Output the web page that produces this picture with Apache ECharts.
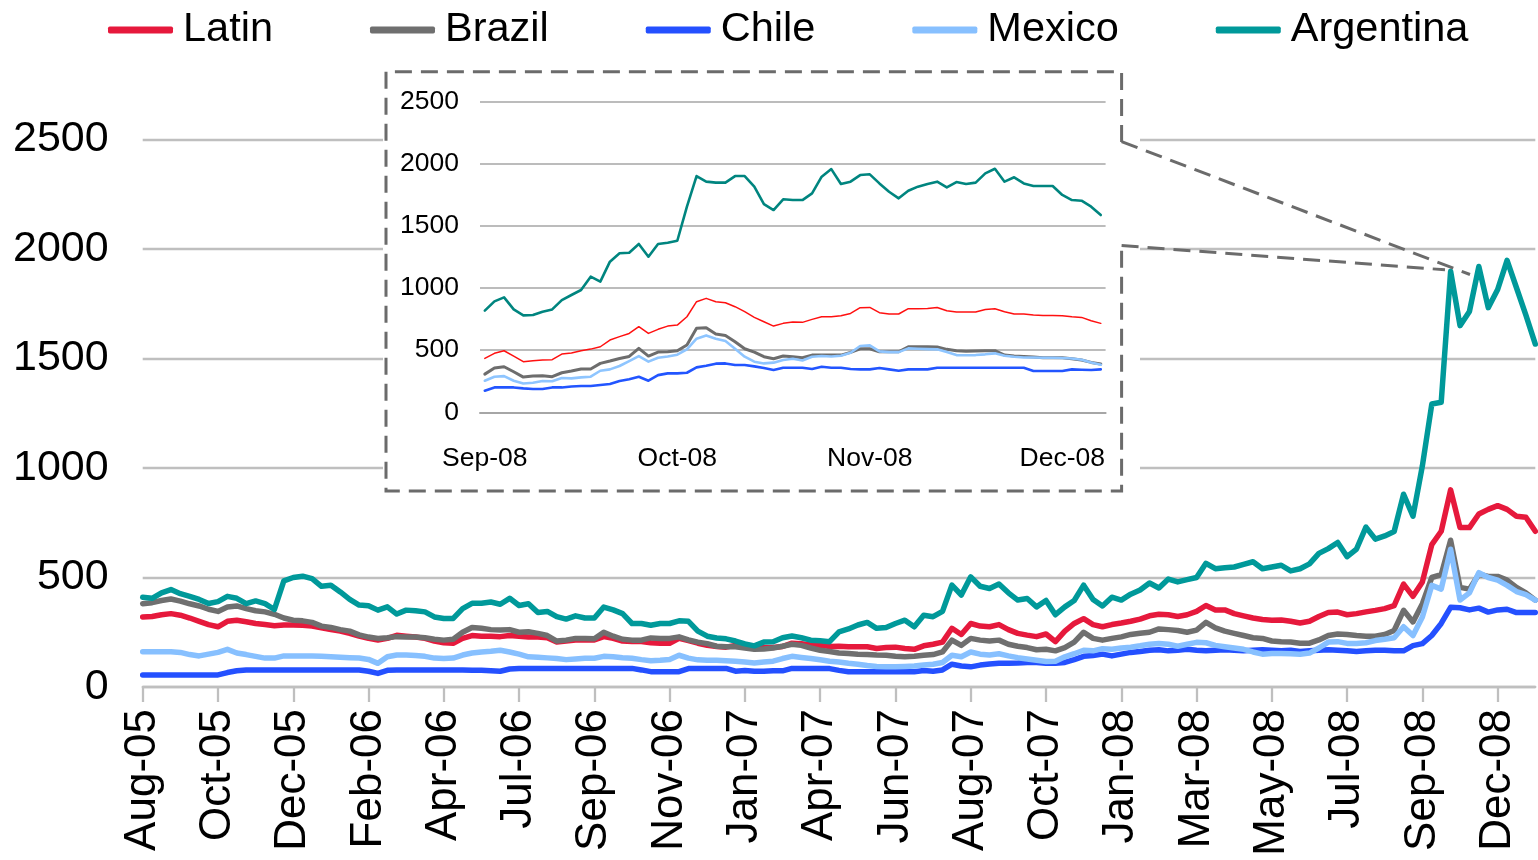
<!DOCTYPE html>
<html>
<head>
<meta charset="utf-8">
<script src="https://cdn.jsdelivr.net/npm/echarts@6.0.0/dist/echarts.min.js"></script>
<style>
  html, body { margin: 0; padding: 0; background: #ffffff; }
  #chart { width: 1538px; height: 860px; }
</style>
</head>
<body>
<div id="chart"></div>
<script>
// Sovereign spreads (bp), Aug-2005 to Dec-2008, with a zoom panel on Sep-Dec 2008.

// ---- main chart: tick labels and series (one point per ~6 trading days) ----
const mainTickLabels = ['Aug-05','Oct-05','Dec-05','Feb-06','Apr-06','Jul-06','Sep-06','Nov-06','Jan-07',
  'Apr-07','Jun-07','Aug-07','Oct-07','Jan-08','Mar-08','May-08','Jul-08','Sep-08','Dec-08'];
const mainStep = 8; // points between two labelled ticks

const latin = [
  320,322,330,335,328,315,300,285,275,300, 305,298,290,285,280,283,283,282,278,270,
  262,255,245,232,222,215,222,236,232,228, 222,210,202,200,222,
  235,232,232,230,235,232,228,228,225,205, 210,215,215,215,230,222,210,208,208,202,
  200,200,222,212,200,190,185,182,190,192, 178,180,180,185,
  200,198,192,190,185,186,184,184,184,176, 180,182,176,172,188,195,205,268,240,290,
  278,275,285,262,245,237,230,242,207,255, 290,312,285,
  275,285,292,300,310,325,332,330,322,330, 345,372,352,352,335,325,315,308,305,306,
  300,292,300,322,340,342,330,335,343,350, 358,372,
  470,414,480,650,711,900,728,728,790,811,828,811,780,775,711
];
const brazil = [
  380,385,395,402,392,380,370,355,345,365, 370,358,348,343,332,315,305,302,295,278,
  272,262,255,238,228,222,225,230,228,228, 225,218,214,218,250,
  272,268,262,260,262,250,252,245,235,210, 214,222,222,220,250,232,218,214,214,224,
  222,222,229,215,205,198,186,184,184,178, 172,174,178,186,
  195,190,178,168,162,155,153,150,148,146, 145,140,138,140,145,148,160,214,190,222,
  214,210,214,195,186,180,170,172,165,180, 205,250,222,
  214,222,229,240,245,250,265,262,258,250, 260,295,270,255,245,235,225,222,210,207,
  205,200,200,215,235,242,240,235,232,232, 240,258,
  350,297,380,500,513,670,455,447,515,505,505,488,455,430,397
];
const chile = [
  55,55,55,55,55,55,55,55,55,66, 74,78,78,78,78,78,78,78,78,78,
  78,78,78,78,72,62,76,78,78,78, 78,78,78,78,78,
  76,76,74,72,82,85,85,85,85,85, 85,85,85,85,85,85,85,85,78,70,
  70,70,70,84,85,85,85,85,72,75, 72,72,74,74,
  85,85,85,85,84,76,70,70,70,70, 70,70,70,70,75,72,78,104,96,92,
  100,105,108,109,110,112,112,108,108,112, 125,140,144,
  150,142,150,158,162,168,170,165,168,172, 168,165,168,170,168,166,168,170,168,165,
  168,162,166,168,170,168,165,162,165,168, 168,166,
  165,189,198,235,290,364,362,352,360,342,352,355,340,340,340
];
const mexico = [
  161,161,161,161,158,148,142,150,158,172, 155,148,140,132,132,142,142,142,142,140,
  138,136,134,132,126,108,138,146,146,144, 140,132,130,132,146,
  155,160,163,168,160,150,138,136,133,130, 125,128,131,131,140,138,134,131,125,120,
  122,126,145,132,124,122,122,120,118,114, 110,114,118,130,
  140,135,130,124,118,114,108,104,98,94, 92,92,94,96,100,104,112,145,138,160,
  150,146,152,142,134,128,122,116,118,138, 152,168,165,
  175,172,178,182,188,195,199,195,186,195, 204,202,190,184,178,172,160,150,153,153,
  152,150,155,178,205,207,199,199,202,212, 218,225,
  275,235,320,464,447,629,397,430,522,500,488,464,436,422,397
];
const argentina = [
  410,405,430,445,426,414,400,381,390,414, 405,381,393,381,354,485,500,506,495,460,
  465,434,400,374,371,351,366,333,351,348, 343,320,313,313,358,
  382,382,388,378,405,372,380,340,345,321, 310,325,315,315,365,352,335,290,290,282,
  290,290,302,300,255,232,224,220,210,197, 188,205,207,225,
  233,225,214,211,207,252,265,283,295,268, 272,290,305,275,328,321,345,465,420,503,
  460,450,470,430,397,404,366,395,330,366, 395,465,400,
  370,410,397,424,443,475,452,493,480,490, 500,565,540,545,548,560,572,540,548,556,
  530,540,562,610,632,660,595,630,730,675, 690,710,
  880,780,1010,1292,1300,1898,1650,1715,1920,1732,1815,1948,1823,1698,1566
];

// ---- zoom panel: Sep-08 to Dec-08, daily ----
const insetTickLabels = ['Sep-08','Oct-08','Nov-08','Dec-08'];
const insetStep = 20;

const insetLatin = [
  433,474,495,452,407,415,420,423,468,476, 495,508,527,581,608,634,688,634,667,693,
  701,768,889,916,889,881,849,809,763,728, 693,715,725,723,747,768,768,776,795,841,
  843,801,790,790,833,833,835,843,817,806, 806,806,827,833,809,790,790,782,779,779,
  776,768,763,736,715
];
const insetBrazil = [
  307,356,366,326,283,291,294,286,318,332, 348,348,393,412,433,449,514,452,484,487,
  495,541,675,680,629,618,567,511,484,447, 431,452,447,439,460,460,460,460,482,511,
  511,487,487,487,527,527,527,525,506,495, 490,492,495,495,460,452,449,444,439,439,
  439,431,420,401,388
];
const insetChile = [
  174,200,200,200,192,187,187,200,200,208, 211,211,219,227,251,265,286,254,299,313,
  313,318,361,374,391,393,380,380,369,356, 340,358,358,358,348,366,358,358,348,345,
  345,356,345,334,345,345,345,358,358,358, 358,358,358,358,358,358,358,332,332,332,
  332,345,342,340,345
];
const insetMexico = [
  254,286,291,254,232,238,251,249,276,273, 281,286,334,345,372,412,452,407,439,449,
  463,506,592,618,592,573,511,447,407,393, 399,420,431,417,447,452,449,455,479,533,
  538,490,484,484,514,511,508,506,484,460, 458,460,466,474,455,447,441,441,439,439,
  436,433,423,401,382
];
const insetArgentina = [
  817,892,924,827,779,782,809,827,902,943, 983,1090,1050,1211,1278,1283,1353,1251,1353,1363,
  1379,1653,1899,1854,1846,1846,1899,1899,1814,1674, 1626,1712,1706,1706,1760,1894,1955,1835,1854,1907,
  1913,1840,1773,1720,1781,1814,1835,1854,1808,1851, 1835,1846,1921,1958,1854,1889,1840,1819,1819,1819,
  1747,1706,1701,1653,1586
];

const names = ['Latin', 'Brazil', 'Chile', 'Mexico', 'Argentina'];
const mainColors = ['#E6193C', '#6F6F6F', '#2450FF', '#87C0FF', '#00999A'];
const insetColors = ['#FF1010', '#6D6D6D', '#2255FF', '#8EC5FF', '#00857F'];
const insetWidths = [1.5, 3, 2.6, 2.6, 2.6];

const FONT = '"Liberation Sans", Arial, Helvetica, sans-serif';

const mainCats = latin.map((_, i) => 'p' + i);
const insetCats = insetLatin.map((_, i) => 'd' + i);

const mainData = [latin, brazil, chile, mexico, argentina];
const insetData = [insetLatin, insetBrazil, insetChile, insetMexico, insetArgentina];

const plainNumber = (v) => String(v);

const series = [];
names.forEach((n, k) => {
  series.push({
    name: n, type: 'line', xAxisIndex: 0, yAxisIndex: 0, data: mainData[k],
    symbol: 'none', showSymbol: false, z: 2,
    lineStyle: { color: mainColors[k], width: 5.5, cap: 'round', join: 'round' },
    itemStyle: { color: mainColors[k] },
    emphasis: { disabled: true }
  });
});
names.forEach((n, k) => {
  series.push({
    name: n, type: 'line', xAxisIndex: 1, yAxisIndex: 1, data: insetData[k],
    symbol: 'none', showSymbol: false, z: 12,
    lineStyle: { color: insetColors[k], width: insetWidths[k], cap: 'round', join: 'round' },
    itemStyle: { color: insetColors[k] },
    emphasis: { disabled: true }
  });
});

// frame of the zoom panel and the two leader lines towards the main plot
const frameStyle = { stroke: '#6B6B6B', lineWidth: 3, lineDash: [17, 9], fill: null };

const chart = echarts.init(document.getElementById('chart'), null, { renderer: 'canvas' });
chart.setOption({
  backgroundColor: '#ffffff',
  animation: false,
  textStyle: { fontFamily: FONT },
  legend: {
    data: names, left: 103, top: 4,
    icon: 'roundRect', itemWidth: 65, itemHeight: 7, itemGap: 97,
    textStyle: { fontSize: 41.5, color: '#000', fontFamily: FONT, padding: [0, 0, 0, 5] },
    selectedMode: false
  },
  grid: [
    { left: 142.7, right: 2.7, top: 139.5, bottom: 173, containLabel: false, outerBoundsMode: 'none' },
    { left: 480, right: 432.4, top: 101.3, bottom: 447.7, containLabel: false, outerBoundsMode: 'none' }
  ],
  xAxis: [
    {
      type: 'category', gridIndex: 0, data: mainCats, boundaryGap: false,
      axisLine: { lineStyle: { color: '#BFBFBF', width: 2.3 } },
      axisTick: { interval: mainStep - 1, length: 15, lineStyle: { color: '#BFBFBF', width: 2.3 } },
      axisLabel: {
        interval: mainStep - 1, rotate: 90, margin: 22, fontSize: 44, color: '#000', fontFamily: FONT,
        formatter: (v, i) => mainTickLabels[i / mainStep] || ''
      },
      splitLine: { show: false }
    },
    {
      type: 'category', gridIndex: 1, data: insetCats, boundaryGap: true, z: 10,
      axisLine: { lineStyle: { color: '#A6A6A6', width: 2 } },
      axisTick: { interval: 0, length: 9, lineStyle: { color: '#A6A6A6', width: 1.5 } },
      axisLabel: {
        interval: insetStep - 1, margin: 33, fontSize: 26.5, color: '#000', fontFamily: FONT,
        formatter: (v, i) => insetTickLabels[i / insetStep] || ''
      },
      splitLine: { show: false }
    }
  ],
  yAxis: [
    {
      type: 'value', gridIndex: 0, min: 0, max: 2500, interval: 500,
      axisLabel: { fontSize: 43, margin: 34, color: '#000', fontFamily: FONT, formatter: plainNumber },
      axisLine: { show: false }, axisTick: { show: false },
      splitLine: { lineStyle: { color: '#BFBFBF', width: 2.3 } }
    },
    {
      type: 'value', gridIndex: 1, min: 0, max: 2500, interval: 500, z: 10,
      axisLabel: { fontSize: 26.5, margin: 21, color: '#000', fontFamily: FONT, formatter: plainNumber },
      axisLine: { show: false }, axisTick: { show: false },
      splitLine: { lineStyle: { color: '#A6A6A6', width: 1.5 } }
    }
  ],
  graphic: {
    elements: [
      { type: 'rect', z: 5, silent: true,
        shape: { x: 383, y: 69, width: 757, height: 425 },
        style: { fill: '#ffffff' } },
      { type: 'polyline', z: 50, silent: true,
        shape: { points: [[1121.6, 142], [1121.6, 71.7], [386, 71.7], [386, 491], [1121.6, 491], [1121.6, 245.5]] },
        style: frameStyle },
      { type: 'line', z: 50, silent: true,
        shape: { x1: 1121.6, y1: 141.6, x2: 1470, y2: 274.5 }, style: frameStyle },
      { type: 'line', z: 50, silent: true,
        shape: { x1: 1121.6, y1: 245.5, x2: 1445, y2: 269.8 }, style: frameStyle }
    ]
  },
  series: series
});
</script>
</body>
</html>
